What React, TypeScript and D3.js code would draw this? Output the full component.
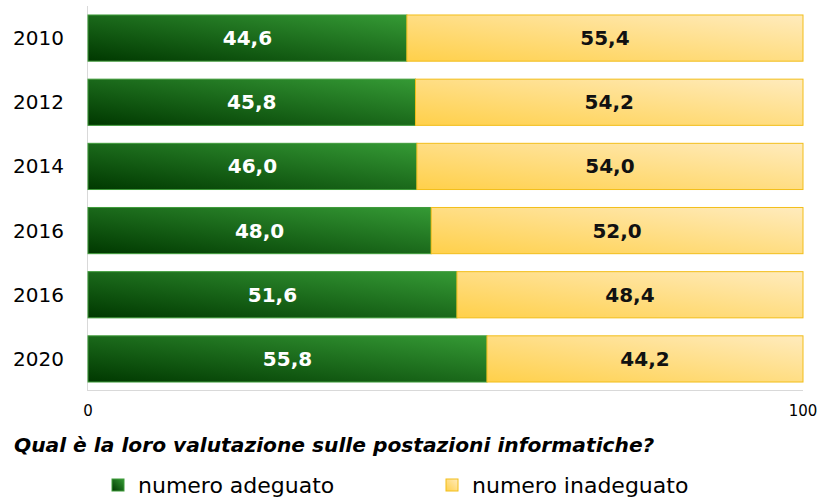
import React from "react";
import * as d3 from "d3";

const years = ["2010", "2012", "2014", "2016", "2016", "2020"];
const adeguato = [44.6, 45.8, 46.0, 48.0, 51.6, 55.8];
const inadeguato = [55.4, 54.2, 54.0, 52.0, 48.4, 44.2];
const seriesNames = ["numero adeguato", "numero inadeguato"];
const xTicks = [0, 100];
const title = "Qual è la loro valutazione sulle postazioni informatiche?";

const W = 818;
const H = 499;
const FONT = "'DejaVu Sans', Verdana, sans-serif";

export default function App() {
  const x = d3.scaleLinear().domain([0, 100]).range([88, 803]);
  const y = d3
    .scaleBand<number>()
    .domain(years.map((_, i) => i))
    .range([6, 391])
    .paddingInner(0.28)
    .paddingOuter(0.14);
  const fmt = (v: number) => v.toFixed(1).replace(".", ",");
  const stack = years.map((yr, i) => ({
    i,
    segs: [
      { k: 0, x0: 0, x1: adeguato[i], v: adeguato[i] },
      { k: 1, x0: adeguato[i], x1: adeguato[i] + inadeguato[i], v: inadeguato[i] },
    ],
  }));
  const fills = ["url(#gGreen)", "url(#gYellow)"];
  const strokes = ["#3f9b3a", "#f2be1a"];
  const textColors = ["#ffffff", "#111111"];

  return (
    <svg width={W} height={H} style={{ position: "absolute", left: 0, top: 0 }}>
      <defs>
        <linearGradient id="gGreen" x1="0" y1="1" x2="1" y2="0">
          <stop offset="0" stopColor="#003800" />
          <stop offset="1" stopColor="#359a35" />
        </linearGradient>
        <linearGradient id="gYellow" x1="0" y1="1" x2="1" y2="0">
          <stop offset="0" stopColor="#ffd04a" />
          <stop offset="1" stopColor="#ffebbd" />
        </linearGradient>
      </defs>
      <rect width={W} height={H} fill="#ffffff" />
      <line x1={87.5} x2={87.5} y1={6} y2={391} stroke="#d9d9d9" />
      <line x1={87.5} x2={803} y1={390.5} y2={390.5} stroke="#d9d9d9" />
      {years.map((yr, i) => (
        <text
          key={"y" + i}
          x={64}
          y={(y(i) as number) + y.bandwidth() / 2}
          textAnchor="end"
          dominantBaseline="central"
          fontFamily={FONT}
          fontSize={20}
          fill="#000"
        >
          {yr}
        </text>
      ))}
      {stack.map((row) =>
        row.segs.map((s) => (
          <g key={row.i + "-" + s.k}>
            <rect
              x={x(s.x0)}
              y={y(row.i)}
              width={x(s.x1) - x(s.x0)}
              height={y.bandwidth()}
              fill={fills[s.k]}
              stroke={strokes[s.k]}
              strokeWidth={1}
            />
            <text
              x={(x(s.x0) + x(s.x1)) / 2}
              y={(y(row.i) as number) + y.bandwidth() / 2}
              textAnchor="middle"
              dominantBaseline="central"
              fontFamily={FONT}
              fontWeight="bold"
              fontSize={20}
              fill={textColors[s.k]}
            >
              {fmt(s.v)}
            </text>
          </g>
        ))
      )}
      {xTicks.map((t) => (
        <text
          key={"t" + t}
          x={x(t)}
          y={411}
          textAnchor="middle"
          dominantBaseline="central"
          fontFamily={FONT}
          fontSize={15}
          fill="#000"
        >
          {t}
        </text>
      ))}
      <text
        x={14}
        y={452}
        fontFamily={FONT}
        fontStyle="italic"
        fontWeight="bold"
        fontSize={20.2}
        fill="#000"
      >
        {title}
      </text>
      {seriesNames.map((n, k) => {
        const lx = [112, 446][k];
        return (
          <g key={"l" + k}>
            <rect x={lx} y={479} width={12} height={12} fill={fills[k]} stroke={strokes[k]} />
            <text
              x={lx + 26}
              y={485}
              dominantBaseline="central"
              fontFamily={FONT}
              fontSize={22}
              fill="#000"
            >
              {n}
            </text>
          </g>
        );
      })}
    </svg>
  );
}
